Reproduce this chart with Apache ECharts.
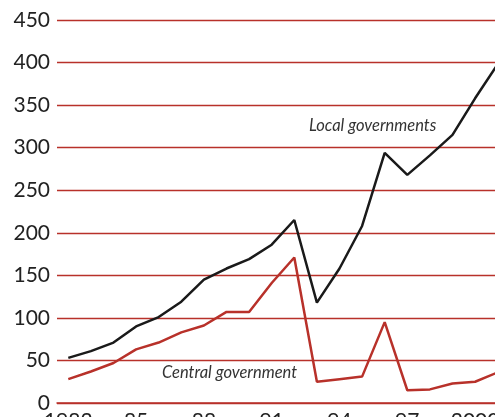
<!DOCTYPE html>
<html>
<head>
<meta charset="utf-8">
<script src="https://cdn.jsdelivr.net/npm/echarts@6/dist/echarts.min.js"></script>
<style>
  html, body { margin: 0; padding: 0; background: #fff; overflow: hidden; }
  #chart { width: 495px; height: 417px; }
</style>
</head>
<body>
<div id="chart"></div>
<script>
const years = ['1982', '1983', '1984', '1985', '1986', '1987', '1988', '1989', '1990', '1991',
  '1992', '1993', '1994', '1995', '1996', '1997', '1998', '1999', '2000', '2001']
const yearLabels = { '1982': '1982', '1985': '85', '1988': '88', '1991': '91', '1994': '94', '1997': '97', '2000': '2000' }
const localGov = [53, 61, 71, 90, 101, 119, 145, 158, 169, 186, 215, 118, 158, 208, 294, 268, 291, 315, 358, 398]
const centralGov = [28, 37, 47, 63, 71, 83, 91, 107, 107, 141, 171, 25, 28, 31, 95, 15, 16, 23, 25, 36]

const red = '#b8312a'
const font = 'Lato, "Open Sans", sans-serif'

const chart = echarts.init(document.getElementById('chart'))

// right is negative: the 2001 slot runs past the window edge, as in the source
chart.setOption({
  animation: false,
  backgroundColor: '#fff',
  grid: { left: 57, right: -14, top: 20, bottom: 14, containLabel: false, outerBoundsMode: 'none' },
  xAxis: {
    type: 'category',
    data: years,
    boundaryGap: true,
    axisLine: { lineStyle: { color: red, width: 1.5 } },
    axisTick: { inside: true, length: 9, interval: 0, lineStyle: { color: red, width: 1.2 } },
    axisLabel: {
      interval: 0,
      margin: 8,
      color: '#222',
      fontFamily: font,
      fontSize: 21,
      formatter: v => yearLabels[v] || ''
    },
    splitLine: { show: false }
  },
  yAxis: {
    type: 'value',
    min: 0,
    max: 450,
    interval: 50,
    axisLine: { show: false },
    axisTick: { show: false },
    axisLabel: { color: '#222', fontFamily: font, fontSize: 21, margin: 7 },
    splitLine: { lineStyle: { color: red, width: 1.3 } }
  },
  series: [
    {
      name: 'Local governments',
      type: 'line',
      data: localGov,
      symbol: 'none',
      lineStyle: { color: '#1a1a1a', width: 2.5 },
      z: 3
    },
    {
      name: 'Central government',
      type: 'line',
      data: centralGov,
      symbol: 'none',
      lineStyle: { color: red, width: 2.5 },
      z: 2
    }
  ],
  graphic: [
    {
      type: 'text',
      left: 309,
      top: 117,
      style: { text: 'Local governments', fill: '#333', font: 'italic 16.5px ' + font }
    },
    {
      type: 'text',
      left: 162,
      top: 364,
      style: { text: 'Central government', fill: '#333', font: 'italic 16.5px ' + font }
    }
  ]
})
</script>
</body>
</html>
